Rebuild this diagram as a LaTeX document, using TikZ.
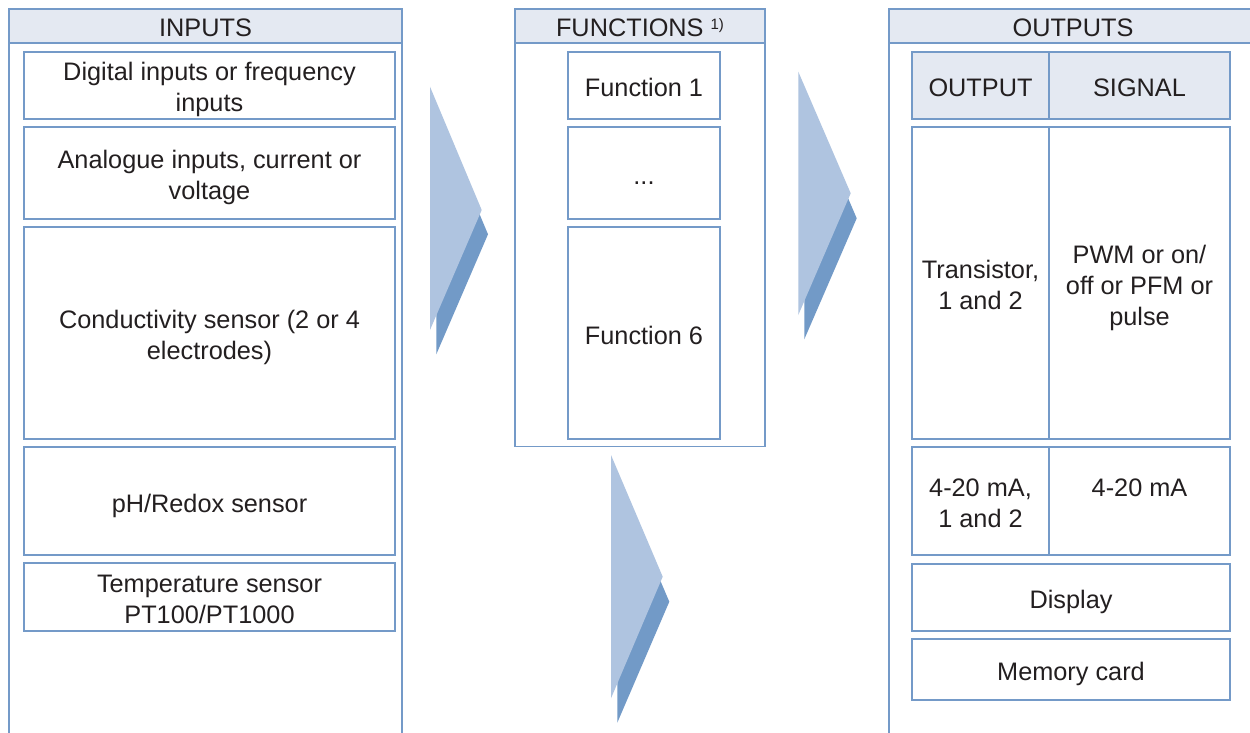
\documentclass[tikz,border=0pt]{standalone}
\usepackage{fontspec}
\setmainfont{Liberation Sans}
\definecolor{bline}{RGB}{116,154,200}
\definecolor{hfill}{RGB}{228,233,242}
\definecolor{alight}{RGB}{175,196,224}
\definecolor{adark}{RGB}{114,154,199}
\definecolor{txt}{RGB}{35,31,32}
\newcommand\toprl{\rule{0pt}{28pt}}
\newcommand\botrl{\rule[-6pt]{0pt}{6pt}}
\begin{document}
\begin{tikzpicture}[x=1pt,y=-1pt,
  every node/.style={font=\fontsize{25.3}{31}\selectfont, text=txt, align=center, inner sep=0pt, outer sep=0pt,
    execute at begin node={\toprl}, execute at end node={\botrl}},
  box/.style={draw=bline, line width=1.6pt, fill=white, rectangle},
  hbox/.style={box, fill=hfill},
  panel/.style={draw=bline, line width=1.6pt},
  lightarrow/.style={fill=alight},
  darkarrow/.style={fill=adark}]
\useasboundingbox (0,0) rectangle (1250,733);
\clip (0,0) rectangle (1250,733);
\fill[white] (0,0) rectangle (1250,733);

% ---------- INPUTS panel ----------
\draw[panel] (9,43) -- (9,745);
\draw[panel] (402,43) -- (402,745);
\node[hbox, minimum width=393, minimum height=34] (inhead) at (205.5,26) {INPUTS};
\node[box, minimum width=371, minimum height=67] (in1) at (209.5,85.5) {\toprl Digital inputs or frequency\\inputs\botrl};
\node[box, minimum width=371, minimum height=92] (in2) at (209.5,173) {\toprl Analogue inputs, current or\\voltage\botrl};
\node[box, minimum width=371, minimum height=212] (in3) at (209.5,333) {\toprl Conductivity sensor (2 or 4\\electrodes)\botrl};
\node[box, minimum width=371, minimum height=108] (in4) at (209.5,501) {pH/Redox sensor};
\node[box, minimum width=371, minimum height=68] (in5) at (209.5,597) {\toprl Temperature sensor\\PT100/PT1000\botrl};

% ---------- FUNCTIONS panel ----------
\draw[panel] (515,43) rectangle (765,446.5);
\node[hbox, minimum width=250, minimum height=34] (fnhead) at (640,26) {FUNCTIONS {\fontsize{15}{15}\selectfont\raisebox{7pt}{1)}}};
\node[box, minimum width=152, minimum height=67] (fn1) at (644,85.5) {Function 1};
\node[box, minimum width=152, minimum height=92] (fn2) at (644,173) {...};
\node[box, minimum width=152, minimum height=212] (fn3) at (644,333) {Function 6};

% ---------- OUTPUTS panel ----------
\draw[panel] (889,43) -- (889,745);
\draw[panel] (1256,43) -- (1256,745);
\node[hbox, minimum width=368, minimum height=34] (outhead) at (1073,26) {OUTPUTS};
\node[hbox, minimum width=137, minimum height=67] (o1a) at (980.5,85.5) {OUTPUT};
\node[hbox, minimum width=181, minimum height=67] (o1b) at (1139.5,85.5) {SIGNAL};
\node[box, minimum width=137, minimum height=312] (o2a) at (980.5,283) {\toprl Transistor,\\1 and 2\botrl};
\node[box, minimum width=181, minimum height=312] (o2b) at (1139.5,283) {\toprl PWM or on/\\off or PFM or\\pulse\botrl};
\node[box, minimum width=137, minimum height=108] (o3a) at (980.5,501) {\toprl 4-20 mA,\\1 and 2\botrl};
\node[box, minimum width=181, minimum height=108] (o3b) at (1139.5,501) {\toprl 4-20 mA\\\mbox{}\botrl};
\node[box, minimum width=318, minimum height=67] (o4) at (1071,597.5) {Display};
\node[box, minimum width=318, minimum height=61] (o5) at (1071,669.5) {Memory card};

% ---------- chevron arrows ----------
\fill[darkarrow] (436.3,111) -- (488,234.3) -- (436.3,354.3) -- cycle;
\fill[lightarrow] (430,86.7) -- (481.7,210) -- (430,330) -- cycle;

\fill[darkarrow] (804.3,95.7) -- (856.7,218.3) -- (804.3,339.3) -- cycle;
\fill[lightarrow] (798.3,71.7) -- (850.7,193.3) -- (798.3,315) -- cycle;

\fill[darkarrow] (617.3,479.5) -- (669.3,601.7) -- (617.3,722.7) -- cycle;
\fill[lightarrow] (611,455) -- (662.7,576.7) -- (611,698.3) -- cycle;
\end{tikzpicture}
\end{document}
